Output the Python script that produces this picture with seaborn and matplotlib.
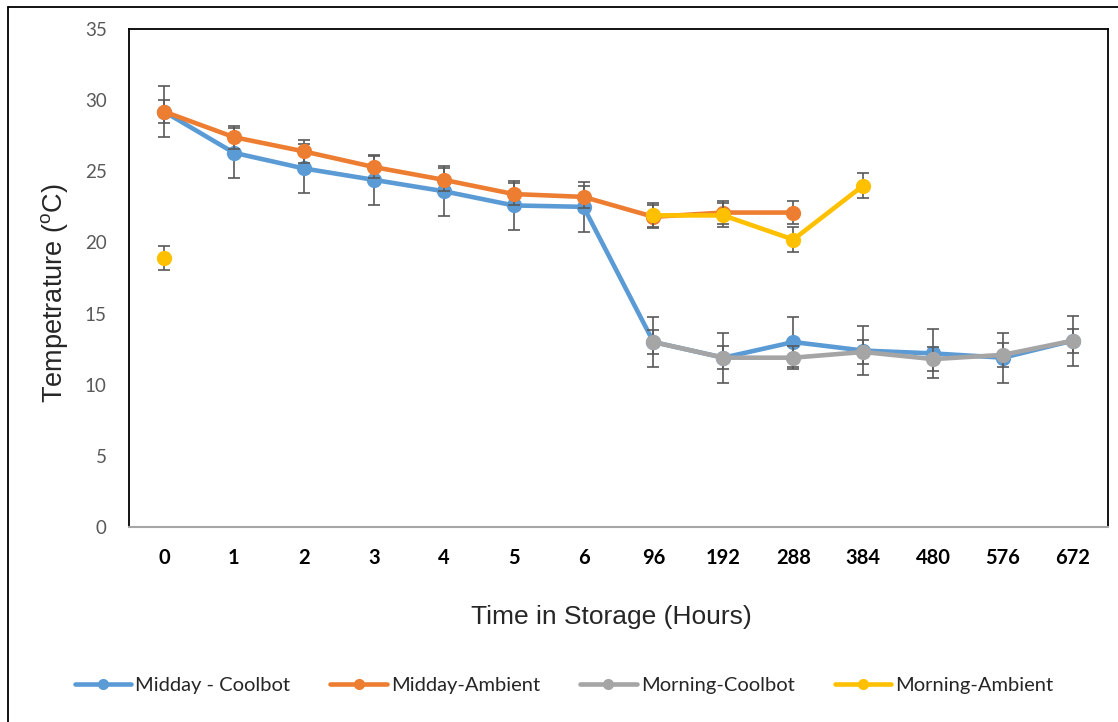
import matplotlib
matplotlib.use("Agg")
import matplotlib.pyplot as plt
from matplotlib.lines import Line2D
import numpy as np
import pandas as pd
import seaborn as sns

hours = ["0", "1", "2", "3", "4", "5", "6", "96", "192", "288", "384", "480", "576", "672"]

midday_coolbot = [29.2, 26.3, 25.2, 24.4, 23.6, 22.6, 22.5, 13.0, 11.9, 13.0, 12.4, 12.2, 11.9, 13.1]
midday_coolbot_err = [1.8, 1.75, 1.75, 1.75, 1.75, 1.75, 1.75, 1.75, 1.75, 1.75, 1.75, 1.75, 1.75, 1.75]

midday_ambient = [29.2, 27.4, 26.4, 25.3, 24.4, 23.4, 23.2, 21.8, 22.1, 22.1, np.nan, np.nan, np.nan, np.nan]
midday_ambient_err = [0.8, 0.8, 0.8, 0.8, 0.8, 0.8, 0.8, 0.8, 0.8, 0.8, np.nan, np.nan, np.nan, np.nan]

morning_coolbot = [np.nan, np.nan, np.nan, np.nan, np.nan, np.nan, np.nan, 13.0, 11.9, 11.9, 12.3, 11.8, 12.1, 13.1]
morning_coolbot_err = [np.nan, np.nan, np.nan, np.nan, np.nan, np.nan, np.nan, 0.85, 0.8, 0.8, 0.85, 0.85, 0.85, 0.85]

morning_ambient = [18.9, np.nan, np.nan, np.nan, np.nan, np.nan, np.nan, 21.9, 21.9, 20.2, 24.0, np.nan, np.nan, np.nan]
morning_ambient_err = [0.85, np.nan, np.nan, np.nan, np.nan, np.nan, np.nan, 0.85, 0.85, 0.85, 0.85, np.nan, np.nan, np.nan]

series_names = ["Midday - Coolbot", "Midday-Ambient", "Morning-Coolbot", "Morning-Ambient"]
colors = ["#5B9BD5", "#ED7D31", "#A5A5A5", "#FFC000"]

# long table, with a segment id so gaps in a series stay gaps
rows = []
for name, vals, errs in zip(series_names,
                            [midday_coolbot, midday_ambient, morning_coolbot, morning_ambient],
                            [midday_coolbot_err, midday_ambient_err, morning_coolbot_err, morning_ambient_err]):
    seg = 0
    prev_nan = True
    for i, (v, e) in enumerate(zip(vals, errs)):
        if np.isnan(v):
            prev_nan = True
            continue
        if prev_nan:
            seg += 1
        prev_nan = False
        rows.append({"pos": i, "temp": v, "err": e, "series": name, "seg": name + str(seg)})
df = pd.DataFrame(rows)

sns.set_theme(style="white")
plt.rcParams["mathtext.default"] = "regular"

fig = plt.figure(figsize=(11.18, 7.22), dpi=100)
ax = fig.add_axes([129 / 1118, 1 - 527 / 722, (1108 - 129) / 1118, (527 - 29) / 722])

for k, name in enumerate(series_names):
    d = df[df["series"] == name]
    ax.errorbar(d["pos"], d["temp"], yerr=d["err"], fmt="none", ecolor="#595959",
                elinewidth=1.2, capsize=4.5, capthick=1.2, zorder=1 + 2 * k)
    sns.lineplot(data=d, x="pos", y="temp", units="seg", estimator=None, color=colors[k],
                 linewidth=3.3, marker="o", markersize=11, markeredgewidth=0,
                 legend=False, ax=ax, zorder=2 + 2 * k)

ax.set_xlim(-0.5, 13.5)
ax.set_ylim(0, 35)
ax.set_xticks(range(len(hours)))
ax.set_xticklabels(hours, fontsize=14.5, fontweight="bold", family="Lato", color="black")
ax.set_yticks(range(0, 36, 5))
ax.set_yticklabels([str(v) for v in range(0, 36, 5)], fontsize=13.5, family="Lato", color="#595959")
ax.tick_params(axis="x", length=0, pad=15)
ax.tick_params(axis="y", length=0, pad=16)
ax.set_xlabel("")
ax.set_ylabel("")

for s in ["left", "top", "right"]:
    ax.spines[s].set_color("black")
    ax.spines[s].set_linewidth(1.3)
ax.spines["bottom"].set_color("#A6A6A6")
ax.spines["bottom"].set_linewidth(1.5)

fig.text(611 / 1118, 1 - 617 / 722, "Time in Storage (Hours)", ha="center", va="center",
         fontsize=19, family=["Liberation Sans Narrow", "Liberation Sans"])
fig.text(55 / 1118, 1 - 293 / 722, "Tempetrature ($^{o}$C)", ha="center", va="center",
         rotation=90, fontsize=19.5, family=["Liberation Sans Narrow", "Liberation Sans"])

handles = [Line2D([], [], color=c, linewidth=3.3, marker="o", markersize=8, markeredgewidth=0)
           for c in colors]
fig.legend(handles, series_names, loc="center", bbox_to_anchor=(564 / 1118, 1 - 685 / 722),
           ncol=4, frameon=False, handlelength=2.8, handletextpad=0.2, columnspacing=2.0,
           prop={"family": "Lato", "size": 14.5})

# outer chart border
fig.add_artist(Line2D([8 / 1118, 8 / 1118], [0, 1 - 7 / 722], color="black", linewidth=1.3))
fig.add_artist(Line2D([8 / 1118, 1], [1 - 7 / 722, 1 - 7 / 722], color="black", linewidth=1.3))

fig.savefig("out.png", dpi=100)
